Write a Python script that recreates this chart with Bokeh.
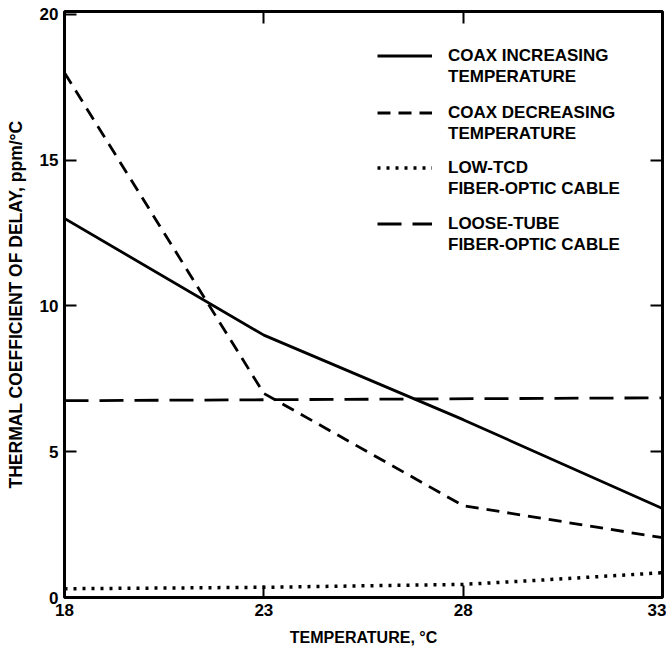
from bokeh.plotting import figure
from bokeh.models import Range1d, LinearAxis, FixedTicker, Legend, LegendItem
from bokeh.embed import file_html
from bokeh.resources import INLINE

# Data
temp_coax_inc = [18, 23, 28, 33]
tcd_coax_inc = [13.0, 9.0, 6.1, 3.05]

temp_coax_dec = [18, 23, 28, 33]
tcd_coax_dec = [18.0, 7.0, 3.15, 2.05]

temp_low_tcd = [18, 23, 28, 30, 33]
tcd_low_tcd = [0.3, 0.35, 0.45, 0.6, 0.85]

temp_loose = [18, 33]
tcd_loose = [6.75, 6.85]

x_ticks = [18, 23, 28, 33]
y_ticks = [0, 5, 10, 15, 20]
inner_x_ticks = [23, 28]
inner_y_ticks = [5, 10, 15]

label_line1 = ["COAX INCREASING", "COAX DECREASING", "LOW-TCD", "LOOSE-TUBE"]
label_line2 = ["TEMPERATURE", "TEMPERATURE", "FIBER-OPTIC CABLE", "FIBER-OPTIC CABLE"]

FONT = "Liberation Sans"

p = figure(width=666, height=654, output_backend="svg", toolbar_location=None,
           x_range=Range1d(18, 33), y_range=Range1d(0, 20.1),
           x_axis_location=None, y_axis_location=None,
           min_border_left=64, min_border_right=4, min_border_top=11, min_border_bottom=57)
p.grid.visible = False
p.outline_line_color = "black"
p.outline_line_width = 3
p.background_fill_color = "white"
p.border_fill_color = "white"


def style_axis(ax, ticks, show_labels):
    ax.ticker = FixedTicker(ticks=ticks)
    ax.axis_line_color = None
    ax.major_tick_in = 12
    ax.major_tick_out = 0
    ax.major_tick_line_width = 2
    ax.major_tick_line_color = "black"
    ax.minor_tick_line_color = None
    ax.major_label_text_font = FONT
    ax.major_label_text_font_style = "bold"
    ax.major_label_text_color = "black"
    ax.axis_label_text_color = "black"
    if show_labels:
        ax.major_label_text_font_size = "17px"
    else:
        ax.major_label_overrides = {t: "" for t in ticks}
        ax.major_label_text_font_size = "1px"
        ax.major_label_standoff = 0


left = LinearAxis(axis_label="THERMAL COEFFICIENT OF DELAY, ppm/°C")
style_axis(left, y_ticks, True)
left.major_label_standoff = 6
left.axis_label_standoff = 11
left.axis_label_text_font = FONT
left.axis_label_text_font_style = "bold"
left.axis_label_text_font_size = "17.5px"
p.add_layout(left, "left")

bottom = LinearAxis(axis_label="TEMPERATURE, °C")
style_axis(bottom, x_ticks, True)
bottom.major_label_standoff = 6
bottom.axis_label_standoff = 10
bottom.axis_label_text_font = FONT
bottom.axis_label_text_font_style = "bold"
bottom.axis_label_text_font_size = "16px"
p.add_layout(bottom, "below")

right = LinearAxis()
style_axis(right, inner_y_ticks, False)
p.add_layout(right, "right")

top = LinearAxis()
style_axis(top, inner_x_ticks, False)
p.add_layout(top, "above")

r1 = p.line(temp_coax_inc, tcd_coax_inc, line_color="black", line_width=2.8)
r2 = p.line(temp_coax_dec, tcd_coax_dec, line_color="black", line_width=2.8, line_dash="13 8")
r3 = p.line(temp_low_tcd, tcd_low_tcd, line_color="black", line_width=3.5, line_dash="3 6")
r4 = p.line(temp_loose, tcd_loose, line_color="black", line_width=2.8, line_dash="24 11")
blank = p.line([], [], line_alpha=0)

# one two-line legend block per series, glyph aligned with the first line
legend_y = [510, 453, 398, 342]
for l1, l2, r, ly in zip(label_line1, label_line2, [r1, r2, r3, r4], legend_y):
    lg = Legend(items=[LegendItem(label=l1, renderers=[r]), LegendItem(label=l2, renderers=[blank])],
                location=(313, ly), orientation="vertical",
                glyph_width=55, glyph_height=21, label_standoff=16, spacing=0,
                padding=0, margin=0, border_line_color=None, background_fill_alpha=0,
                label_text_font=FONT, label_text_font_style="bold", label_text_font_size="17px",
                label_text_color="black", label_height=21)
    p.add_layout(lg, "center")

open("out.html", "w").write(file_html(p, INLINE))
